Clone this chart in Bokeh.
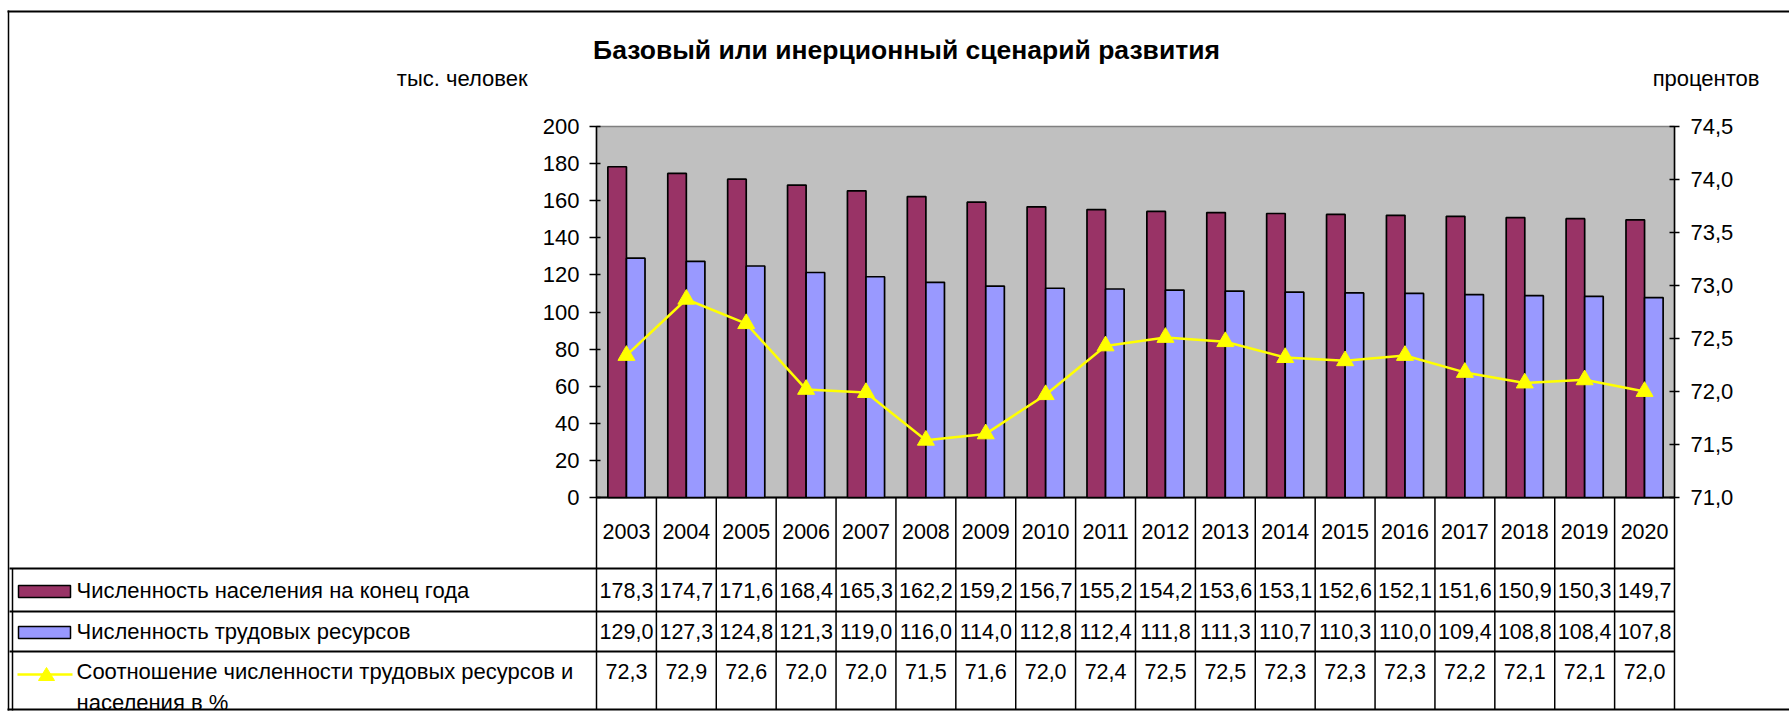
from bokeh.plotting import figure
from bokeh.models import (Range1d, LinearAxis, FixedTicker, CustomJSTickFormatter, ColumnDataSource,
                          Label, LabelSet, Whisker, BoxAnnotation, PolyAnnotation)
from bokeh.transform import dodge
from bokeh.core.properties import value
from bokeh.embed import file_html
from bokeh.resources import INLINE

# ---------------- data ----------------
years = [2003, 2004, 2005, 2006, 2007, 2008, 2009, 2010, 2011, 2012,
         2013, 2014, 2015, 2016, 2017, 2018, 2019, 2020]
population = [178.3, 174.7, 171.6, 168.4, 165.3, 162.2, 159.2, 156.7, 155.2,
              154.2, 153.6, 153.1, 152.6, 152.1, 151.6, 150.9, 150.3, 149.7]
labour = [129.0, 127.3, 124.8, 121.3, 119.0, 116.0, 114.0, 112.8, 112.4,
          111.8, 111.3, 110.7, 110.3, 110.0, 109.4, 108.8, 108.4, 107.8]
ratio = [72.34, 72.87, 72.64, 72.02, 71.99, 71.54, 71.60, 71.97, 72.43,
         72.51, 72.47, 72.32, 72.29, 72.34, 72.18, 72.08, 72.11, 72.00]
left_ticks = [0, 20, 40, 60, 80, 100, 120, 140, 160, 180, 200]
right_ticks = [71.0, 71.5, 72.0, 72.5, 73.0, 73.5, 74.0, 74.5]
title_text = "Базовый или инерционный сценарий развития"
left_unit = "тыс. человек"
right_unit = "процентов"
series_names = ["Численность населения на конец года",
                "Численность трудовых ресурсов",
                "Соотношение численности трудовых ресурсов и",
                "населения в %"]

# ---------------- layout / styling ----------------
FONT = "Liberation Sans"
FS = "22px"        # axis labels, units, legend texts
FS_T = "21.5px"    # numbers in the data table
MAROON = "#993366"
LILAC = "#9999FF"
YELLOW = "#FFFF00"
PLOT_BG = "#C0C0C0"

W, H = 1789, 711
PL, PR, PT, PB = 596, 1674, 126, 497      # plot area in canvas pixels

# ranges chosen so that the category / value scales land on the plot area
x0, x1 = years[0] - 0.5, years[-1] + 0.5
ppx = (PR - PL) / (x1 - x0)
xr = Range1d(x0 - PL / ppx, x1 + (W - PR) / ppx)
y0, y1 = left_ticks[0], left_ticks[-1]
ppy = (PB - PT) / (y1 - y0)
yrng = Range1d(y0 - (H - PB) / ppy, y1 + PT / ppy)
r0, r1 = right_ticks[0], right_ticks[-1]
ppr = (PB - PT) / (r1 - r0)
rrng = Range1d(r0 - (H - PB) / ppr, r1 + PT / ppr)


def sx(X):
    return X


def sy(Y):
    return H - Y


def fmt(v):
    return ("%.1f" % v).replace(".", ",")


p = figure(width=W, height=H, output_backend="svg", toolbar_location=None, title=None,
           x_range=xr, y_range=yrng, x_axis_location=None, y_axis_location=None,
           min_border=0, background_fill_color="white", border_fill_color="white")
p.outline_line_color = None
p.grid.visible = False
p.extra_y_ranges = {"pct": rrng}

# plot area background
p.add_layout(BoxAnnotation(left=x0, right=x1, bottom=y0, top=y1, fill_color=PLOT_BG, fill_alpha=1,
                           line_color="#808080", line_width=1.5, line_alpha=1, level="underlay"))

yl = LinearAxis(fixed_location=x0, bounds=(y0, y1), ticker=FixedTicker(ticks=left_ticks))
yr = LinearAxis(y_range_name="pct", fixed_location=x1, bounds=(r0, r1),
                ticker=FixedTicker(ticks=right_ticks),
                formatter=CustomJSTickFormatter(code="return tick.toFixed(1).replace('.', ',')"))
for ax in (yl, yr):
    ax.major_label_text_font = FONT
    ax.major_label_text_font_size = FS
    ax.major_label_text_color = "black"
    ax.axis_line_color = "black"
    ax.axis_line_width = 1.5
    ax.major_tick_line_color = "black"
    ax.major_tick_line_width = 1.5
    ax.minor_tick_line_color = None
yl.major_tick_in, yl.major_tick_out, yl.major_label_standoff = 4, 7, 10
yr.major_tick_in, yr.major_tick_out, yr.major_label_standoff = 5, 5, 11
p.add_layout(yl, "left")
p.add_layout(yr, "right")

src = ColumnDataSource(dict(
    year=years, population=population, labour=labour, ratio=ratio,
    year_lbl=[str(y) for y in years],
    pop_lbl=[fmt(v) for v in population],
    lab_lbl=[fmt(v) for v in labour],
    rat_lbl=[fmt(v) for v in ratio],
))

p.vbar(x=dodge("year", -0.155, range=p.x_range), top="population", bottom=0, width=0.31,
       source=src, fill_color=MAROON, line_color="black", line_width=1.7)
p.vbar(x=dodge("year", 0.155, range=p.x_range), top="labour", bottom=0, width=0.31,
       source=src, fill_color=LILAC, line_color="black", line_width=1.7)
p.line(x="year", y="ratio", y_range_name="pct", source=src,
       line_color=YELLOW, line_width=2.5)
p.scatter(x="year", y="ratio", y_range_name="pct", source=src, marker="triangle",
          size=17, fill_color=YELLOW, line_color=YELLOW)

# ---------------- texts ----------------
p.add_layout(Label(x=sx(906), y=sy(49), x_units="screen", y_units="screen", text=title_text,
                   text_font=FONT, text_font_style="bold", text_font_size="26.5px",
                   text_color="black", text_align="center", text_baseline="middle"))
p.add_layout(Label(x=sx(527), y=sy(78), x_units="screen", y_units="screen", text=left_unit,
                   text_font=FONT, text_font_size=FS, text_color="black",
                   text_align="right", text_baseline="middle"))
p.add_layout(Label(x=sx(1759), y=sy(78), x_units="screen", y_units="screen", text=right_unit,
                   text_font=FONT, text_font_size=FS, text_color="black",
                   text_align="right", text_baseline="middle"))

# ---------------- data table ----------------
for col, Y in [("year_lbl", 531), ("pop_lbl", 590), ("lab_lbl", 631), ("rat_lbl", 671)]:
    p.add_layout(LabelSet(x="year", y=sy(Y), x_units="data", y_units="screen", text=col,
                          source=src, text_font=value(FONT), text_font_size=value(FS_T),
                          text_color="black", text_align="center", text_baseline="middle"))

# vertical lines of the table at the category boundaries
bounds = [y - 0.5 for y in years] + [years[-1] + 0.5]
vsrc = ColumnDataSource(dict(base=bounds, lower=[sy(709)] * len(bounds), upper=[sy(PB)] * len(bounds)))
p.add_layout(Whisker(base="base", lower="lower", upper="upper", source=vsrc, dimension="height",
                     base_units="data", lower_units="screen", upper_units="screen",
                     lower_head=None, upper_head=None, line_color="black", line_width=1.5))

# horizontal lines (table rows + outer frame)
h_rows = [(PB, PL, PR), (568, 9, PR), (611, 9, PR), (651, 9, PR),
          (709, 7, W + 2), (11, 7, W + 2)]
hsrc = ColumnDataSource(dict(base=[sy(r[0]) for r in h_rows],
                             lower=[sx(r[1]) for r in h_rows],
                             upper=[sx(r[2]) for r in h_rows]))
p.add_layout(Whisker(base="base", lower="lower", upper="upper", source=hsrc, dimension="width",
                     base_units="screen", lower_units="screen", upper_units="screen",
                     lower_head=None, upper_head=None, line_color="black", line_width=2))
# outer left border (double in the legend part)
lsrc = ColumnDataSource(dict(base=[sx(8), sx(12)], lower=[sy(710), sy(710)], upper=[sy(10), sy(568)]))
p.add_layout(Whisker(base="base", lower="lower", upper="upper", source=lsrc, dimension="height",
                     base_units="screen", lower_units="screen", upper_units="screen",
                     lower_head=None, upper_head=None, line_color="black", line_width=1.5))

# legend keys
for top, bot, col in [(585, 597, MAROON), (626, 638, LILAC)]:
    p.add_layout(BoxAnnotation(left=sx(18), right=sx(70), top=sy(top), bottom=sy(bot),
                               left_units="screen", right_units="screen", top_units="screen",
                               bottom_units="screen", fill_color=col, fill_alpha=1,
                               line_color="black", line_width=1.5, line_alpha=1))
ksrc = ColumnDataSource(dict(base=[sy(674)], lower=[sx(17)], upper=[sx(72)]))
p.add_layout(Whisker(base="base", lower="lower", upper="upper", source=ksrc, dimension="width",
                     base_units="screen", lower_units="screen", upper_units="screen",
                     lower_head=None, upper_head=None, line_color=YELLOW, line_width=2.5))
p.add_layout(PolyAnnotation(xs=[sx(38), sx(54), sx(46)], ys=[sy(680), sy(680), sy(667)],
                            xs_units="screen", ys_units="screen", fill_color=YELLOW, fill_alpha=1,
                            line_color=YELLOW, line_alpha=1))

for txt, Y in zip(series_names, [590, 631, 671, 702]):
    p.add_layout(Label(x=sx(76), y=sy(Y), x_units="screen", y_units="screen", text=txt,
                       text_font=FONT, text_font_size=FS, text_color="black",
                       text_align="left", text_baseline="middle"))

open("out.html", "w").write(file_html(p, INLINE))
